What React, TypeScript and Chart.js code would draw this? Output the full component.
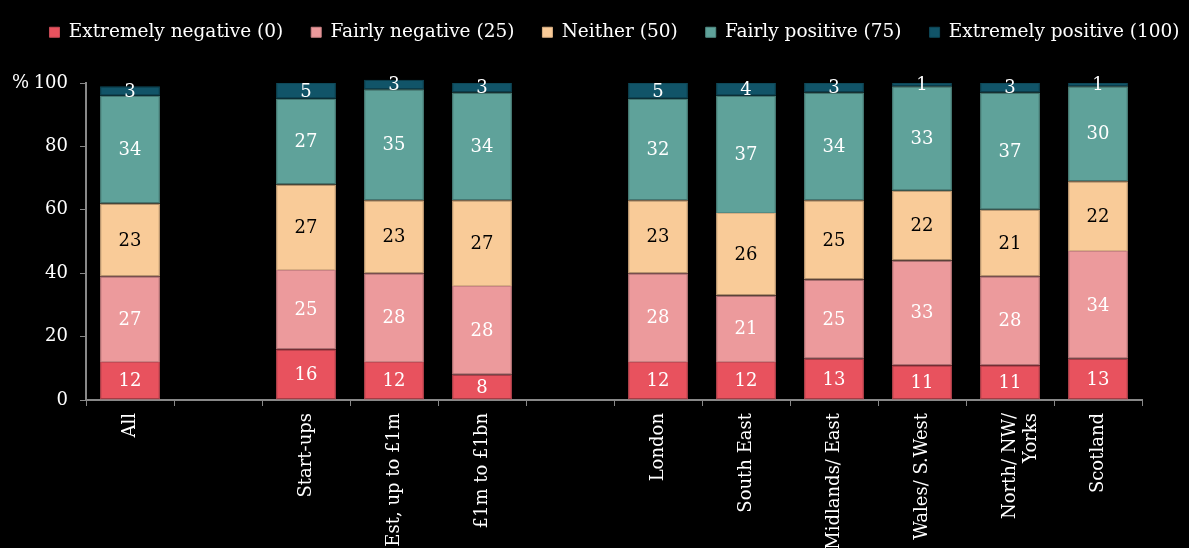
import React, { useEffect, useRef } from "react";
import { Chart, registerables } from "chart.js";

Chart.register(...registerables);

const categories: (string | string[])[] = [
  "All", "", "Start-ups", "Est, up to £1m", "£1m to £1bn", "",
  "London", "South East", "Midlands/ East", "Wales/ S.West", ["North/ NW/", "Yorks"], "Scotland",
];
const seriesNames = [
  "Extremely negative (0)", "Fairly negative (25)", "Neither (50)", "Fairly positive (75)", "Extremely positive (100)",
];
const extremelyNegative = [12, null, 16, 12, 8, null, 12, 12, 13, 11, 11, 13];
const fairlyNegative = [27, null, 25, 28, 28, null, 28, 21, 25, 33, 28, 34];
const neither = [23, null, 27, 23, 27, null, 23, 26, 25, 22, 21, 22];
const fairlyPositive = [34, null, 27, 35, 34, null, 32, 37, 34, 33, 37, 30];
const extremelyPositive = [3, null, 5, 3, 3, null, 5, 4, 3, 1, 3, 1];
const yTicks = [0, 20, 40, 60, 80, 100];
const yUnit = "%";

const colors = ["#E8525E", "#EC9A9C", "#F9CB98", "#5FA29A", "#115468"];
const borders = ["#C64A55", "#CA8385", "#D8AE82", "#528C85", "#0E4858"];
const labelColors = ["#fff", "#fff", "#000", "#fff", "#fff"];
const FONT = "'DejaVu Serif', serif";

const valueLabels = {
  id: "valueLabels",
  afterDatasetsDraw(chart: any) {
    const ctx = chart.ctx;
    ctx.save();
    ctx.font = `18px ${FONT}`;
    ctx.textAlign = "center";
    ctx.textBaseline = "middle";
    chart.data.datasets.forEach((ds: any, di: number) => {
      const meta = chart.getDatasetMeta(di);
      meta.data.forEach((el: any, i: number) => {
        const v = ds.data[i];
        if (v == null) return;
        const { x, y, base } = el.getProps(["x", "y", "base"], true);
        ctx.fillStyle = labelColors[di];
        ctx.fillText(String(v), x, (y + base) / 2 + 1);
      });
    });
    ctx.restore();
  },
};

const unitLabel = {
  id: "unitLabel",
  afterDraw(chart: any) {
    const ctx = chart.ctx;
    const y = chart.scales.y.getPixelForValue(yTicks[yTicks.length - 1]);
    ctx.save();
    ctx.font = `18px ${FONT}`;
    ctx.fillStyle = "#fff";
    ctx.textAlign = "right";
    ctx.textBaseline = "middle";
    ctx.fillText(yUnit, 29, y);
    ctx.restore();
  },
};

export default function App() {
  const ref = useRef<HTMLCanvasElement>(null);
  useEffect(() => {
    if (!ref.current) return;
    const dataArrays = [extremelyNegative, fairlyNegative, neither, fairlyPositive, extremelyPositive];
    const chart = new Chart(ref.current, {
      type: "bar",
      data: {
        labels: categories as any,
        datasets: dataArrays.map((d, i) => ({
          label: seriesNames[i],
          data: d as any,
          backgroundColor: colors[i],
          borderColor: borders[i],
          borderWidth: 1,
          borderSkipped: false,
          categoryPercentage: 1,
          barPercentage: 0.68,
          clip: false as any,
        })),
      },
      options: {
        animation: false,
        responsive: false,
        layout: { padding: { top: -5, right: -25, left: 15, bottom: 0 } },
        plugins: {
          legend: {
            position: "top",
            weight: 3000,
            labels: {
              color: "#fff",
              boxWidth: 10,
              boxHeight: 10,
              padding: 28,
              font: { family: FONT, size: 18.5 },
            },
          } as any,
          title: {
            display: true,
            text: "",
            padding: { top: 0, bottom: 0 },
            font: { size: 31.5, lineHeight: 1 },
          },
          tooltip: { enabled: false },
        },
        scales: {
          x: {
            stacked: true,
            offset: true,
            grid: {
              display: true,
              offset: true,
              drawOnChartArea: false,
              drawTicks: true,
              tickLength: 6,
              color: "#888",
            },
            border: { display: true, color: "#888", width: 2 },
            ticks: {
              color: "#fff",
              autoSkip: false,
              minRotation: 90,
              maxRotation: 90,
              padding: 7,
              font: { family: FONT, size: 18 },
            },
            afterFit(scale: any) {
              scale.height = 148;
            },
          },
          y: {
            stacked: true,
            min: 0,
            max: 100,
            afterBuildTicks(scale: any) {
              scale.ticks = yTicks.map((v) => ({ value: v }));
            },
            grid: {
              display: true,
              drawOnChartArea: false,
              drawTicks: true,
              tickLength: 6,
              color: "#888",
            },
            border: { display: true, color: "#888", width: 2 },
            ticks: {
              color: "#fff",
              padding: 12,
              font: { family: FONT, size: 18 },
            },
            afterFit(scale: any) {
              scale.width = 71;
            },
          },
          spacer: {
            type: "linear",
            position: "right",
            display: true,
            grid: { display: false },
            border: { display: false },
            ticks: { display: false },
            afterFit(scale: any) {
              scale.width = 72;
            },
          },
        },
      },
      plugins: [valueLabels, unitLabel],
    });
    return () => chart.destroy();
  }, []);
  return (
    <div style={{ position: "absolute", left: 0, top: 0, width: 1189, height: 548, background: "#000", overflow: "hidden" }}>
      <canvas ref={ref} width={1189} height={548} style={{ display: "block" }} />
    </div>
  );
}
